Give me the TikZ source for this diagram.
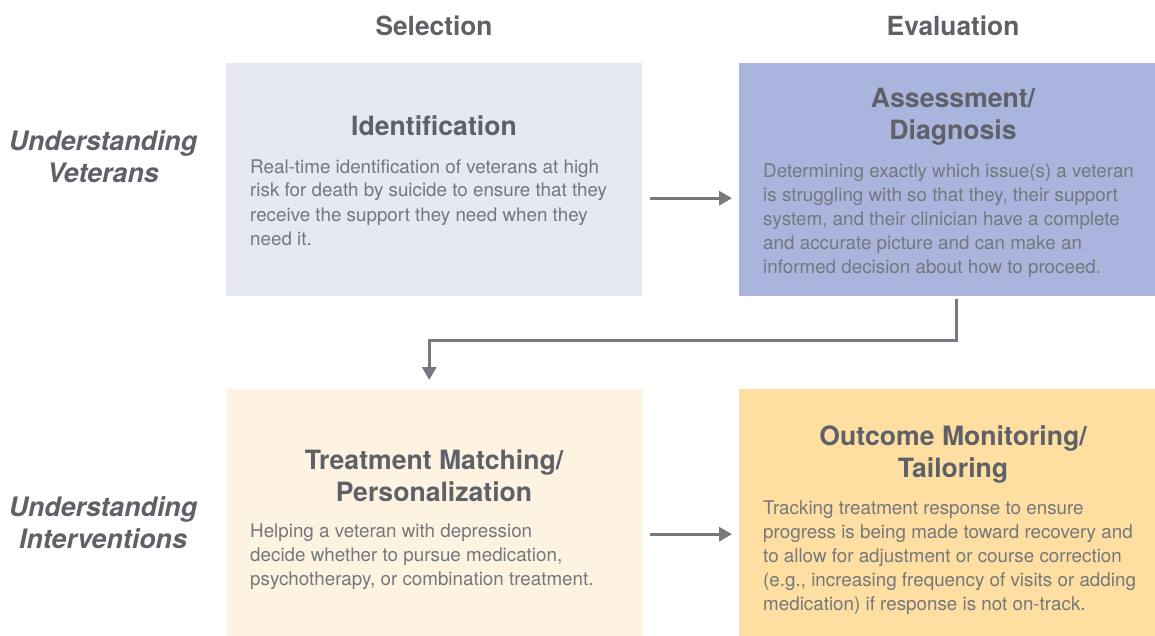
\documentclass[tikz,border=0pt]{standalone}
\usepackage{fontspec}
\setmainfont{TeX Gyre Heros}
\usetikzlibrary{arrows.meta}
\definecolor{titlegray}{HTML}{5E6167}
\definecolor{bodygray}{HTML}{74777C}
\definecolor{arrowgray}{HTML}{767A80}
\definecolor{lavlight}{HTML}{E6E8F4}
\definecolor{lavdark}{HTML}{AAB5DD}
\definecolor{cream}{HTML}{FEF3E1}
\definecolor{peach}{HTML}{FEDFA1}
\begin{document}
\begin{tikzpicture}[x=1pt,y=-1pt,
  panel/.style={draw=none,inner sep=0,minimum width=416pt,anchor=north west},
  colhead/.style={anchor=base,font=\fontsize{26.3}{32}\selectfont\bfseries,text=titlegray},
  rowhead/.style={anchor=base,align=center,font=\fontsize{26.8}{32}\selectfont\bfseries\itshape,text=titlegray},
  paneltitle/.style={anchor=base,align=center,inner sep=0,font=\fontsize{26.6}{32}\selectfont\bfseries,text=titlegray},
  panelbody/.style={anchor=base west,align=left,inner sep=0,font=\fontsize{18.8}{24}\selectfont,text=bodygray},
  flow/.style={draw=arrowgray,line width=3pt,-{Triangle[length=13pt,width=14pt]}}]
\useasboundingbox[fill=white] (0,0) rectangle (1155,636);

% panels
\node[panel,fill=lavlight,minimum height=233pt] (ident) at (226,63) {};
\node[panel,fill=lavdark,minimum height=233pt] (assess) at (739,63) {};
\node[panel,fill=cream,minimum height=247pt] (treat) at (226,389) {};
\node[panel,fill=peach,minimum height=247pt] (outcome) at (739,389) {};

% column and row headings (anchored at the baseline of the last line)
\node[colhead] (sel) at (434,36) {Selection};
\node[colhead] (eval) at (953,36) {Evaluation};
\node[rowhead] (vet) at (103,183) {Understanding\\Veterans};
\node[rowhead] (intv) at (103,548) {Understanding\\Interventions};

% panel titles
\node[paneltitle] (identT) at (434,136) {Identification};
\node[paneltitle] (assessT) at (953,140) {Assessment/\\Diagnosis};
\node[paneltitle] (treatT) at (434,501) {Treatment Matching/\\Personalization};
\node[paneltitle] (outcomeT) at (953,477) {Outcome Monitoring/\\Tailoring};

% panel texts
\node[panelbody] (identB) at (250,245) {Real-time identification of veterans at high\\risk for death by suicide to ensure that they\\receive the support they need when they\\need it.};
\node[panelbody] (assessB) at (763,273) {Determining exactly which issue(s) a veteran\\is struggling with so that they, their support\\system, and their clinician have a complete\\and accurate picture and can make an\\informed decision about how to proceed.};
\node[panelbody] (treatB) at (250,585) {Helping a veteran with depression\\decide whether to pursue medication,\\psychotherapy, or combination treatment.};
\node[panelbody] (outcomeB) at (763,610) {Tracking treatment response to ensure\\progress is being made toward recovery and\\to allow for adjustment or course correction\\(e.g., increasing frequency of visits or adding\\medication) if response is not on-track.};

% connectors
\draw[flow,shorten <=8pt,shorten >=7pt] ([yshift=-18.5pt]ident.east) -- ([yshift=-18.5pt]assess.west);
\draw[flow,shorten <=8pt,shorten >=7pt] ([yshift=-21.5pt]treat.east) -- ([yshift=-21.5pt]outcome.west);
\draw[flow,shorten <=3pt,shorten >=9pt]
  ([xshift=9pt]assess.south) |- ++(0,44) -| ([xshift=-5pt]treat.north);
\end{tikzpicture}
\end{document}
